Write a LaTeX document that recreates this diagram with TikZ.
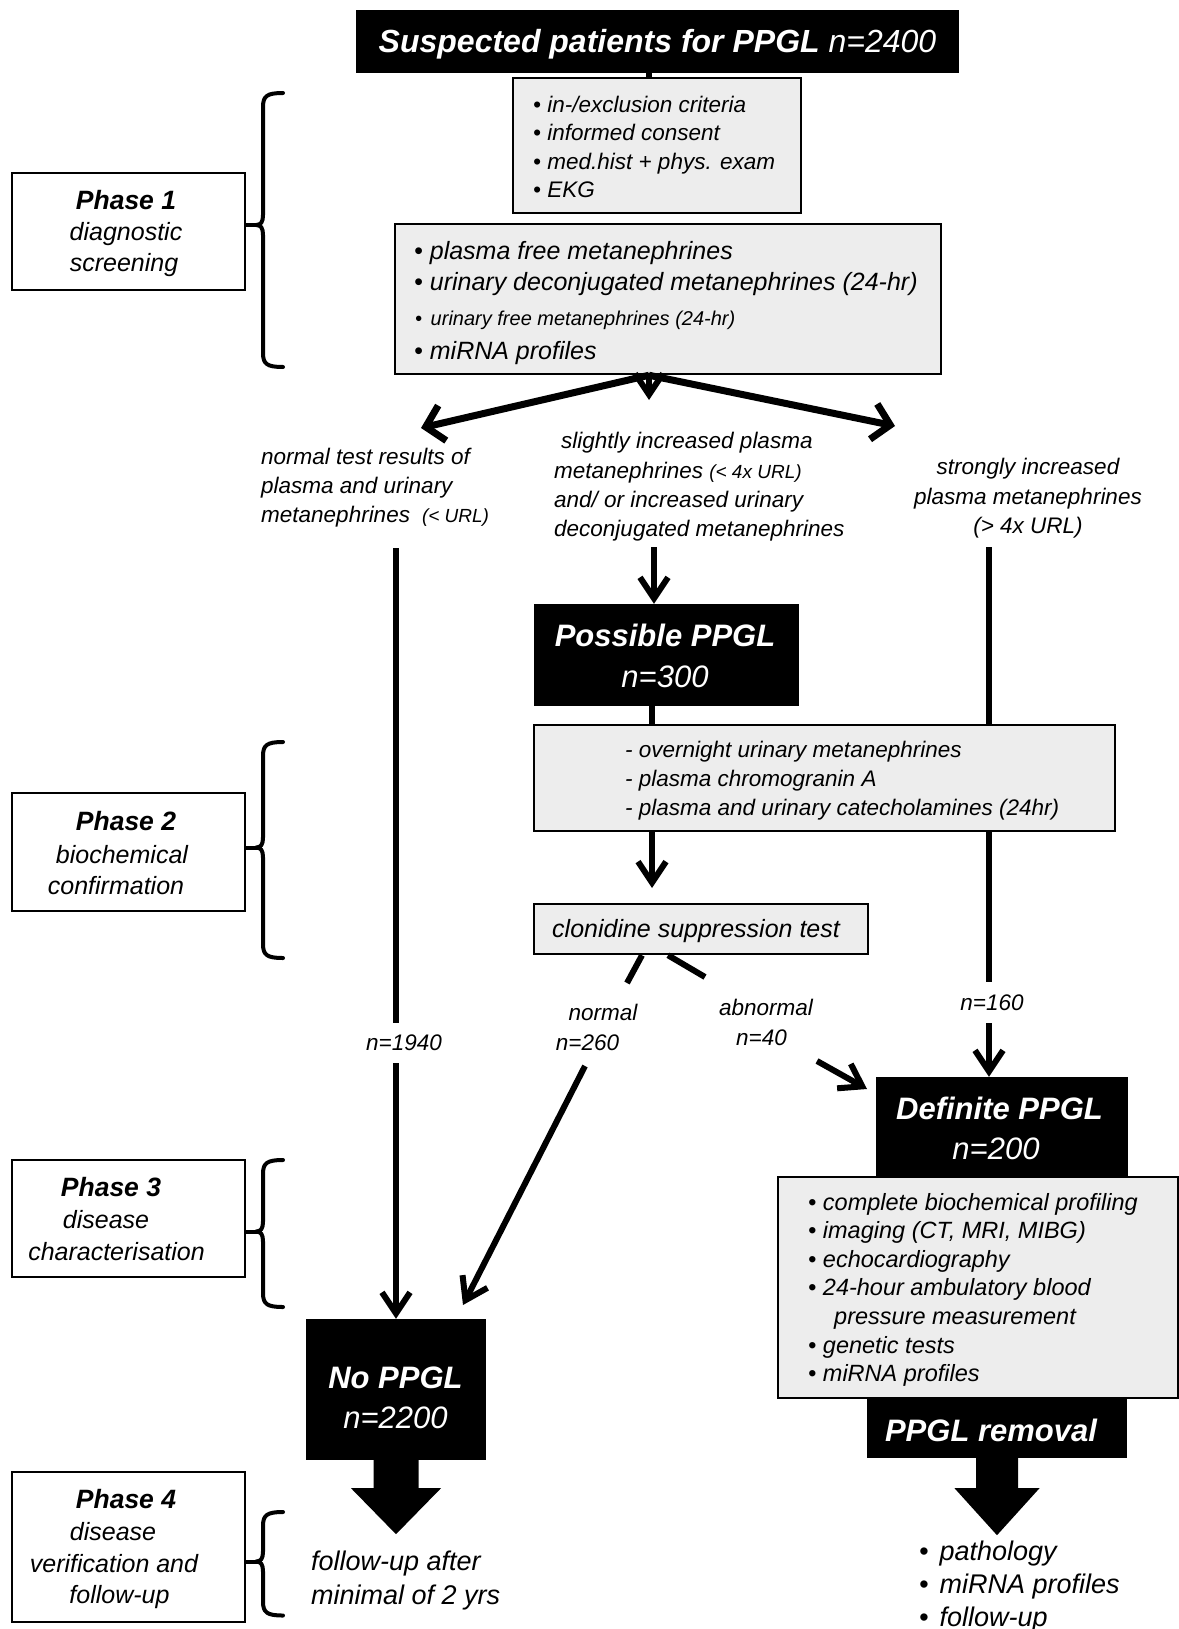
\documentclass[tikz,border=0pt]{standalone}
\usepackage{fontspec}
\setmainfont{Liberation Sans}
\usetikzlibrary{arrows.meta,calc}
\definecolor{boxgray}{HTML}{EDEDED}
\newcommand\bul{\textbullet\ }
\newcommand\smallfs{\fontsize{19}{19}\selectfont}
\newcommand\phbrace[3]{%
  \draw[bracestroke] (283,#1) .. controls (267,#1) and (263,#1+3) .. (263,#1+14)
    -- (263,#2-10) .. controls (263,#2-3) and (261,#2) .. (256,#2)
    .. controls (261,#2) and (263,#2+3) .. (263,#2+10)
    -- (263,#3-14) .. controls (263,#3-3) and (267,#3) .. (283,#3);}
\newcommand\blockarrow[5]{%
  \fill ($(#1)+(-#2,0)$) -- ($(#1)+(-#2,#4)$) -- ($(#1)+(-#3,#4)$) -- ($(#1)+(0,#5)$)
    -- ($(#1)+(#3,#4)$) -- ($(#1)+(#2,#4)$) -- ($(#1)+(#2,0)$) -- cycle;}
\begin{document}
\begin{tikzpicture}[x=1pt,y=-1pt,
  graybox/.style={draw=black, line width=2.5pt, fill=boxgray, inner sep=0pt},
  blackbox/.style={fill=black, draw=none, inner sep=0pt, text=white},
  phasebox/.style={draw=black, line width=2.5pt, fill=white, inner sep=0pt},
  tl/.style={inner sep=0pt, anchor=base west},
  tc/.style={inner sep=0pt, anchor=base},
  it20/.style={font=\fontsize{20}{24}\selectfont\itshape},
  it22/.style={font=\fontsize{22.5}{27}\selectfont\itshape},
  it23/.style={font=\fontsize{23.5}{28}\selectfont\itshape},
  it25/.style={font=\fontsize{25}{30}\selectfont\itshape},
  it27/.style={font=\fontsize{27}{32}\selectfont\itshape},
  it31/.style={font=\fontsize{31}{37}\selectfont\itshape},
  bi26/.style={font=\fontsize{26.5}{32}\selectfont\bfseries\itshape},
  bi31/.style={font=\fontsize{31}{37}\selectfont\bfseries\itshape},
  bi32/.style={font=\fontsize{32}{38}\selectfont\bfseries\itshape},
  wire/.style={line width=6pt},
  arr/.style={line width=6pt, -{Straight Barb[length=21pt,width=28pt]}},
  fork/.style={line width=7pt, -{Straight Barb[length=17pt,width=36pt]}},
  bracestroke/.style={line width=4pt, line cap=round, line join=round},
]
\useasboundingbox (0,0) rectangle (1178,1629);

% column coordinates
\coordinate (cT) at (649,0);
\coordinate (cM) at (652,0);
\coordinate (cR) at (989,0);
\coordinate (cN) at (642,0);
\coordinate (cA) at (668,0);

% ---------- top ----------
\node[blackbox, minimum width=603pt, minimum height=63pt, bi32, text height=23pt, text depth=0pt] (title) at (657.5,41.5) {Suspected patients for PPGL {\mdseries n=2400}};

\node[graybox, minimum width=288pt, minimum height=135pt] (crit) at (657,145.5) {};
\foreach [count=\i] \t in {in-/exclusion criteria, informed consent, med.hist + phys. exam, EKG}
  \node[tl, it22] (crit\i) at (533,{112.5+28.5*(\i-1)}) {\bul\t};
\draw[wire] (title.south -| cT) -- (crit.north -| cT);

\node[graybox, minimum width=546pt, minimum height=150pt] (scr) at (668,299) {};
\node[tl, it25] (scr1) at (414,259.5) {\bul plasma free metanephrines};
\node[tl, it25] (scr2) at (414,290.5) {\bul urinary deconjugated metanephrines (24-hr)};
\node[tl, it20] (scr3) at (415,325) {\bul\hspace{3pt}urinary free metanephrines (24-hr)};
\node[tl, it25] (scr4) at (414,359) {\bul miRNA profiles};

% fork
\coordinate (FL) at (421,428);
\coordinate (FM) at (649,400);
\coordinate (FR) at (895,426);
\draw[fork] (scr.south -| cT) -- (FL);
\draw[arr] (scr.south -| cT) -- (FM);
\draw[fork] (scr.south -| cT) -- (FR);

% branch labels
\node[tl, it22] (lab1a) at (261,464) {normal test results of};
\node[tl, it22] (lab1b) at (261,493) {plasma and urinary};
\node[tl, it22] (lab1c) at (261,522) {metanephrines\hspace{12pt}{\smallfs(< URL)}};
\node[tl, it22] (lab2a) at (561,448) {slightly increased plasma};
\node[tl, it22] (lab2b) at (554,478) {metanephrines {\smallfs(< 4x URL)}};
\node[tl, it22] (lab2c) at (554,507) {and/ or increased urinary};
\node[tl, it22] (lab2d) at (554,536) {deconjugated metanephrines};
\node[tc, it22] (lab3a) at (1028,474) {strongly increased};
\node[tc, it22] (lab3b) at (1028,504) {plasma metanephrines};
\node[tc, it22] (lab3c) at (1028,533) {(> 4x URL)};

% ---------- middle boxes ----------
\node[blackbox, minimum width=265pt, minimum height=102pt] (poss) at (666.5,655) {};
\node[tc, bi31, text=white] (possA) at (665,646) {Possible PPGL};
\node[tc, it31, text=white] (possB) at (665,687) {n=300};

\node[graybox, minimum width=581pt, minimum height=106pt] (box3) at (824.5,778) {};
\node[tl, it22] (b3a) at (625,757) {- overnight urinary metanephrines};
\node[tl, it22] (b3b) at (625,786) {- plasma chromogranin A};
\node[tl, it22] (b3c) at (625,815) {- plasma and urinary catecholamines (24hr)};

\node[graybox, minimum width=334pt, minimum height=50pt] (clon) at (701,929) {};
\node[tl, it25] (clonT) at (552,937) {clonidine suppression test};

\node[blackbox, minimum width=180pt, minimum height=141pt] (noppgl) at (396,1389.5) {};
\node[tc, bi31, text=white] (noA) at (395.5,1388) {No PPGL};
\node[tc, it31, text=white] (noB) at (395.5,1428) {n=2200};

\node[blackbox, minimum width=252pt, minimum height=99pt] (defin) at (1002,1126.5) {};
\node[tc, bi31, text=white] (defA) at (999.5,1119) {Definite PPGL};
\node[tc, it31, text=white] (defB) at (996,1159) {n=200};

\node[graybox, minimum width=400pt, minimum height=221pt] (det) at (978,1287.5) {};
\node[tl, it23] (det1) at (808,1210) {\bul complete biochemical profiling};
\node[tl, it23] (det2) at (808,1238.6) {\bul imaging (CT, MRI, MIBG)};
\node[tl, it23] (det3) at (808,1267.2) {\bul echocardiography};
\node[tl, it23] (det4) at (808,1295.8) {\bul 24-hour ambulatory blood};
\node[tl, it23] (det5) at (834,1324.4) {pressure measurement};
\node[tl, it23] (det6) at (808,1353) {\bul genetic tests};
\node[tl, it23] (det7) at (808,1381.6) {\bul miRNA profiles};

\node[blackbox, minimum width=260pt, minimum height=60pt] (rem) at (997,1428) {};
\node[tc, bi31, text=white] (remT) at (991,1441) {PPGL removal};

% ---------- connectors ----------
\coordinate (L0) at (396,548);
\coordinate (L1) at (396,1023);
\coordinate (L2) at (396,1063);
\draw[wire] (L0) -- (L1);
\draw[arr] (L2) -- (noppgl.north);
\node[tc, it22] (n1940) at (404,1050) {n=1940};

\coordinate (M0) at (654,547);
\draw[arr] (M0) -- (M0 |- poss.north);
\draw[wire] (poss.south -| cM) -- (box3.north -| cM);
\coordinate (C1) at (652,888);
\draw[arr] (box3.south -| cM) -- (C1);

\coordinate (R0) at (989,547);
\coordinate (R1) at (989,982);
\coordinate (R2) at (989,1023);
\draw[wire] (R0) -- (R0 |- box3.north);
\draw[wire] (box3.south -| cR) -- (R1);
\draw[arr] (R2) -- (R2 |- defin.north);
\node[tc, it22] (n160) at (992,1010) {n=160};

\coordinate (N1) at (627,983);
\coordinate (N2) at (585,1066);
\coordinate (N3) at (463,1305);
\draw[wire] (clon.south -| cN) -- (N1);
\draw[arr] (N2) -- (N3);
\node[tc, it22] (normT) at (603,1020) {normal};
\node[tc, it22] (n260) at (587.5,1050) {n=260};

\coordinate (A1) at (705,977);
\coordinate (A2) at (817,1061);
\coordinate (A3) at (867,1089);
\draw[wire] (clon.south -| cA) -- (A1);
\draw[arr] (A2) -- (A3);
\node[tc, it22] (abnT) at (766,1015) {abnormal};
\node[tc, it22] (n40) at (761.5,1045) {n=40};

% block arrows
\blockarrow{noppgl.south}{22.5}{45}{28}{74}
\blockarrow{rem.south}{21}{42.5}{30}{77}

% bottom texts
\node[tl, it27] (fu1) at (311,1570) {follow-up after};
\node[tl, it27] (fu2) at (311,1604) {minimal of 2 yrs};
\node[tl, it27] (fin1) at (919,1560) {\textbullet\hspace{11pt}pathology};
\node[tl, it27] (fin2) at (919,1593) {\textbullet\hspace{11pt}miRNA profiles};
\node[tl, it27] (fin3) at (919,1626) {\textbullet\hspace{11pt}follow-up};

% ---------- phases ----------
\node[phasebox, minimum width=233pt, minimum height=117pt] (ph1) at (128.5,231.5) {};
\node[tc, bi26] (ph1a) at (126,210) {Phase 1};
\node[tc, it25] (ph1b) at (126,241) {diagnostic};
\node[tc, it25] (ph1c) at (124,272) {screening};

\node[phasebox, minimum width=233pt, minimum height=118pt] (ph2) at (128.5,852) {};
\node[tc, bi26] (ph2a) at (126,830) {Phase 2};
\node[tc, it25] (ph2b) at (122,863) {biochemical};
\node[tc, it25] (ph2c) at (116,894) {confirmation};

\node[phasebox, minimum width=233pt, minimum height=117pt] (ph3) at (128.5,1218.5) {};
\node[tc, bi26] (ph3a) at (111,1196) {Phase 3};
\node[tc, it25] (ph3b) at (106,1228) {disease};
\node[tc, it25] (ph3c) at (116.5,1260) {characterisation};

\node[phasebox, minimum width=233pt, minimum height=150pt] (ph4) at (128.5,1547) {};
\node[tc, bi26] (ph4a) at (126,1508) {Phase 4};
\node[tc, it25] (ph4b) at (113,1540) {disease};
\node[tc, it25] (ph4c) at (114,1572) {verification and};
\node[tc, it25] (ph4d) at (119.5,1603) {follow-up};

% braces
\phbrace{93}{225}{367}
\phbrace{742}{847.5}{958}
\phbrace{1160}{1231.5}{1307}
\phbrace{1512}{1561.5}{1615.5}
\coordinate (b1) at (257,225);
\coordinate (b2) at (257,847.5);
\coordinate (b3) at (257,1231.5);
\coordinate (b4) at (257,1561.5);
\draw[bracestroke, line cap=butt] (ph1.east |- b1) -- (b1);
\draw[bracestroke, line cap=butt] (ph2.east |- b2) -- (b2);
\draw[bracestroke, line cap=butt] (ph3.east |- b3) -- (b3);
\draw[bracestroke, line cap=butt] (ph4.east |- b4) -- (b4);
\end{tikzpicture}
\end{document}
